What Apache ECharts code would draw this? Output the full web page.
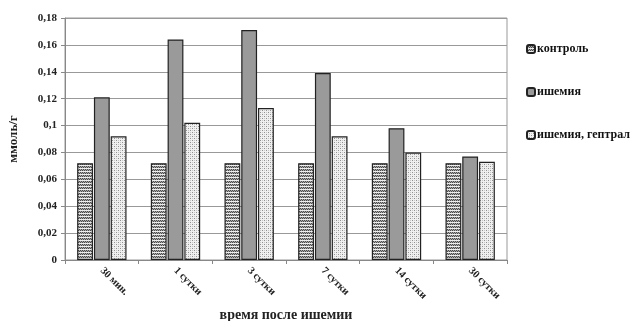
<!DOCTYPE html>
<html><head><meta charset="utf-8">
<script src="https://cdn.jsdelivr.net/npm/echarts@6/dist/echarts.min.js"></script>
<style>html,body{margin:0;padding:0;background:#fff}#c{width:644px;height:321px}</style>
</head><body><div id="c"></div>
<script>
const categories = ['30 мин.', '1 сутки', '3 сутки', '7 сутки', '14 сутки', '30 сутки'];
const seriesNames = ['контроль', 'ишемия', 'ишемия, гептрал'];
const control = [0.072, 0.072, 0.072, 0.072, 0.072, 0.072];
const ischemia = [0.121, 0.164, 0.171, 0.139, 0.098, 0.077];
const heptral = [0.092, 0.102, 0.113, 0.092, 0.080, 0.073];
const yTicks = { min: 0, max: 0.18, interval: 0.02 };

function pat(w, h, draw) {
  const c = document.createElement('canvas'); c.width = w; c.height = h;
  const g = c.getContext('2d'); draw(g); return c;
}
const brick = pat(8, 6, g => {
  for (let y = 0; y < 6; y++) for (let x = 0; x < 8; x++) {
    g.fillStyle = ((x + y) % 2 === 0) ? '#4a4a4a' : '#aaa';
    g.fillRect(x, y, 1, 1);
  }
  g.fillStyle = '#eee'; g.fillRect(0, 0, 8, 1);
  g.fillRect(0, 3, 8, 1);
});
const dots = pat(4, 4, g => {
  g.fillStyle = '#f0f0f0'; g.fillRect(0, 0, 4, 4);
  g.fillStyle = '#909090';
  g.fillRect(0, 0, 1, 1); g.fillRect(2, 2, 1, 1);
  g.fillStyle = '#c8c8c8';
  g.fillRect(2, 0, 1, 1); g.fillRect(0, 2, 1, 1);
});

const font = '"Liberation Serif", "Times New Roman", serif';
const chart = echarts.init(document.getElementById('c'));
const mk = (name, data, color) => ({
  name, type: 'bar', data, barGap: '6%', barCategoryGap: '33%',
  itemStyle: { color, borderColor: '#222', borderWidth: 1.2 }
});
chart.setOption({
  animation: false,
  grid: { left: 65, right: 137, top: 18, bottom: 61, containLabel: false, outerBoundsMode: 'none',
    show: true, borderColor: '#999', borderWidth: 1 },
  legend: {
    orient: 'vertical', left: 521, top: 38, itemGap: 31, itemWidth: 8, itemHeight: 8,
    textStyle: { fontFamily: font, fontWeight: 'bold', fontSize: 12, color: '#111', padding: [0, 0, 0, -3] },
    data: seriesNames
  },
  xAxis: {
    type: 'category', data: categories,
    name: 'время после ишемии', nameLocation: 'middle', nameGap: 46,
    nameTextStyle: { fontFamily: font, fontWeight: 'bold', fontSize: 14, color: '#222' },
    axisLine: { lineStyle: { color: '#888' } },
    axisTick: { show: true, length: 4, lineStyle: { color: '#888' } },
    axisLabel: { rotate: -45, fontFamily: font, fontWeight: 'bold', fontSize: 10.5, color: '#222', margin: 9 }
  },
  yAxis: {
    type: 'value', min: yTicks.min, max: yTicks.max, interval: yTicks.interval,
    name: 'ммоль/г', nameLocation: 'middle', nameGap: 45, nameRotate: 90,
    nameTextStyle: { fontFamily: font, fontWeight: 'bold', fontSize: 13, color: '#222' },
    axisLine: { show: true, lineStyle: { color: '#888' } },
    axisTick: { show: true, length: 4, lineStyle: { color: '#888' } },
    splitLine: { lineStyle: { color: '#999' } },
    axisLabel: { fontFamily: font, fontWeight: 'bold', fontSize: 11, color: '#222', margin: 8,
      formatter: v => String(+v.toFixed(2)).replace('.', ',') }
  },
  series: [
    mk(seriesNames[0], control, { image: brick, repeat: 'repeat' }),
    mk(seriesNames[1], ischemia, '#9a9a9a'),
    mk(seriesNames[2], heptral, { image: dots, repeat: 'repeat' })
  ]
});
</script></body></html>
